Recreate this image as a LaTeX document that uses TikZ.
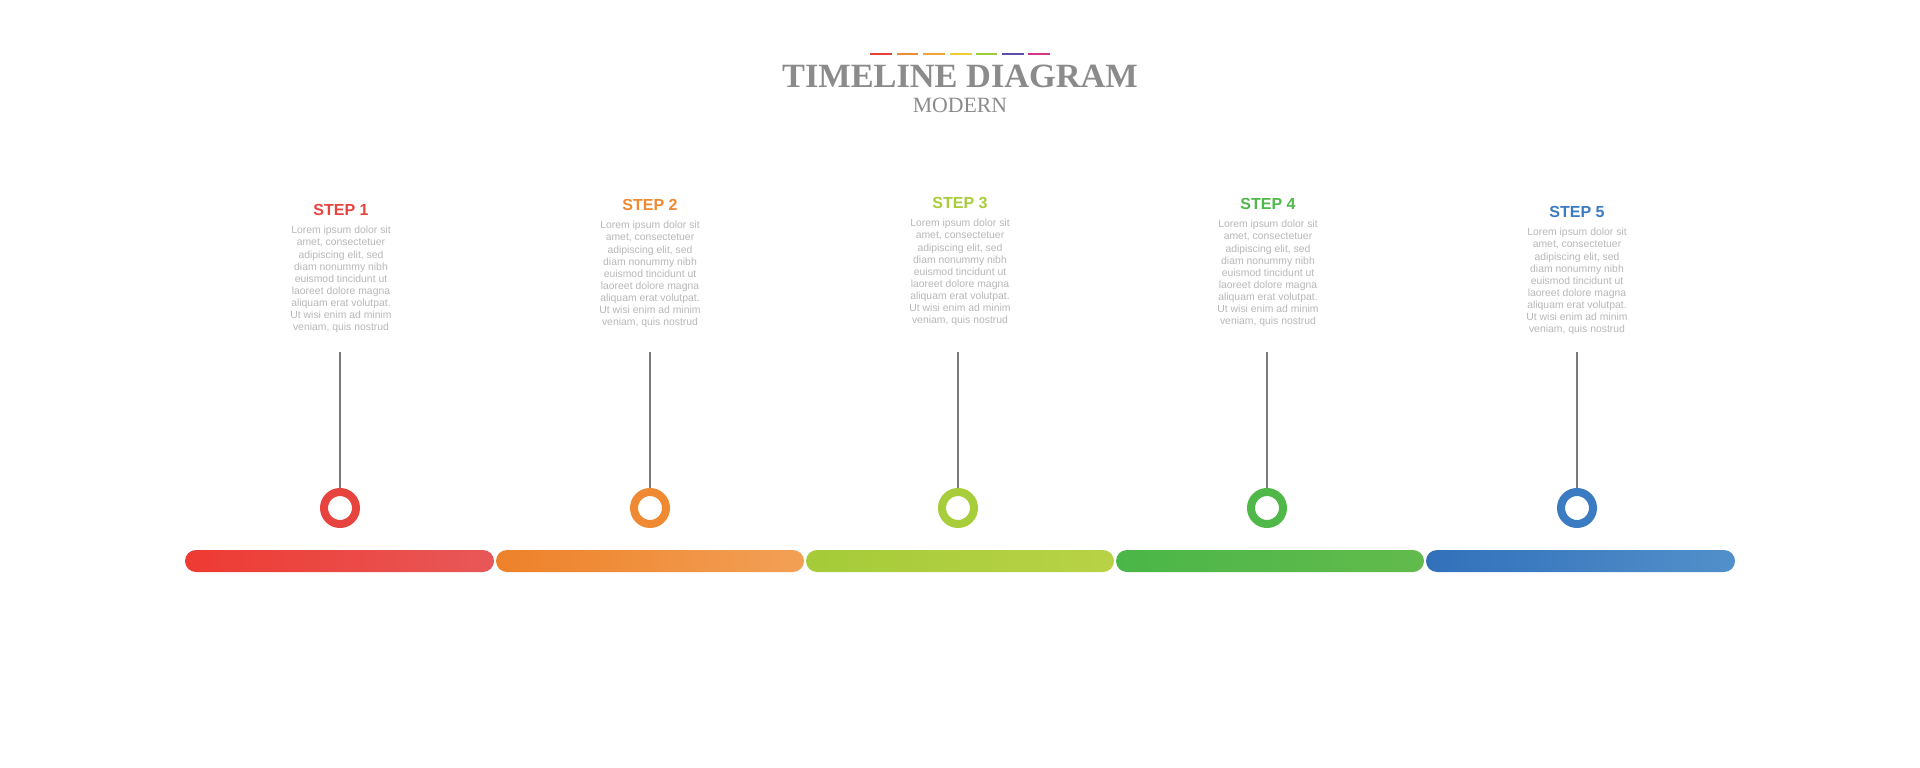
\documentclass[tikz,border=0pt]{standalone}
\usepackage{fontspec}
\setmainfont{Liberation Sans}
\newfontfamily\titlefont[FakeStretch=1.01]{Liberation Serif}
\newfontfamily\subfont{Liberation Serif}
\definecolor{txtgray}{HTML}{8B8B8B}
\definecolor{bodygray}{HTML}{B8B8B8}
\definecolor{linegray}{HTML}{7A7A7A}
\definecolor{cA}{HTML}{E8443F}
\definecolor{cB}{HTML}{EF8A33}
\definecolor{cC}{HTML}{A8CD3A}
\definecolor{cD}{HTML}{50B848}
\definecolor{cE}{HTML}{3A7BC2}
\definecolor{lA}{HTML}{EE3A32}
\definecolor{rA}{HTML}{E85858}
\definecolor{lB}{HTML}{EE8129}
\definecolor{rB}{HTML}{F2A056}
\definecolor{lC}{HTML}{A5CB38}
\definecolor{rC}{HTML}{B8D246}
\definecolor{lD}{HTML}{4BB648}
\definecolor{rD}{HTML}{62BB4C}
\definecolor{lE}{HTML}{3270BA}
\definecolor{rE}{HTML}{5290CB}
\definecolor{dA}{HTML}{E5403A}
\definecolor{dB}{HTML}{EE8B33}
\definecolor{dC}{HTML}{F2A53A}
\definecolor{dD}{HTML}{EFCB36}
\definecolor{dE}{HTML}{9CCB3B}
\definecolor{dF}{HTML}{5B4DA8}
\definecolor{dG}{HTML}{D6338A}
\tikzset{
  steptitle/.style={anchor=base, inner sep=0pt, font=\fontsize{16}{18}\selectfont\bfseries},
  stepbody/.style={anchor=north, inner sep=0pt, align=center, text=bodygray, font=\fontsize{10.4}{12.1}\selectfont},
  ring/.style={circle, draw=#1, line width=8pt, minimum size=32pt, inner sep=0pt},
  stem/.style={draw=linegray, line width=1.4pt},
  barseg/.style={rounded corners=11pt},
  dashseg/.style={line width=2.5pt}
}
\newcommand{\loremtxt}{Lorem ipsum dolor sit\\amet, consectetuer\\adipiscing elit, sed\\diam nonummy nibh\\euismod tincidunt ut\\laoreet dolore magna\\aliquam erat volutpat.\\Ut wisi enim ad minim\\veniam, quis nostrud}
\begin{document}
\begin{tikzpicture}[x=1pt,y=-1pt]
\useasboundingbox[fill=white] (0,0) rectangle (1920,768);
% header dashes
\draw[dashseg,dA] (870,54) -- (892,54);
\draw[dashseg,dB] (897,54) -- (918,54);
\draw[dashseg,dC] (923,54) -- (945,54);
\draw[dashseg,dD] (950,54) -- (972,54);
\draw[dashseg,dE] (976,54) -- (997,54);
\draw[dashseg,dF] (1002,54) -- (1024,54);
\draw[dashseg,dG] (1028,54) -- (1050,54);
\node[anchor=base, inner sep=0pt, text=txtgray, font=\titlefont\fontsize{34}{36}\selectfont\bfseries] (title) at (960,87.5) {TIMELINE DIAGRAM};
\node[anchor=base, inner sep=0pt, text=txtgray, font=\subfont\fontsize{21.8}{24}\selectfont] (subtitle) at (960,112) {MODERN};
% bars
\shade[barseg, left color=lA, right color=rA] (185,550) rectangle (494,572);
\shade[barseg, left color=lB, right color=rB] (496,550) rectangle (804,572);
\shade[barseg, left color=lC, right color=rC] (806,550) rectangle (1114,572);
\shade[barseg, left color=lD, right color=rD] (1116,550) rectangle (1424,572);
\shade[barseg, left color=lE, right color=rE] (1426,550) rectangle (1735,572);
% steps
\foreach \i/\tx/\cx/\ty/\by/\col in {1/341/340/210/230/cA, 2/650/650/205/225/cB, 3/960/958/203/223/cC, 4/1268/1267/204/224/cD, 5/1577/1577/212/232/cE}{
  \node[steptitle, text=\col] (t\i) at (\tx,\ty+5.7) {STEP \i};
  \node[stepbody] (b\i) at (\tx,\by-3.9) {\loremtxt};
  \coordinate (top\i) at (\cx,352);
  \node[ring=\col] (c\i) at (\cx,508) {};
  \draw[stem] (top\i) -- (c\i.north);
}
\end{tikzpicture}
\end{document}
